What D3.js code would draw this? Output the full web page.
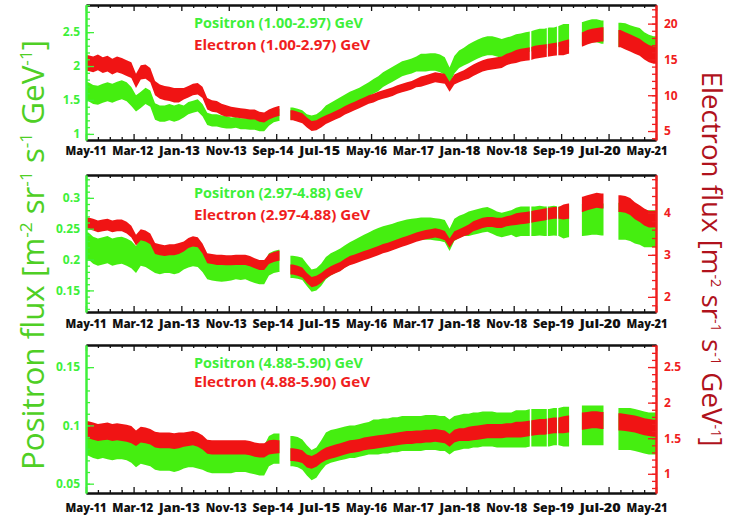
<!DOCTYPE html>
<html>
<head>
<meta charset="utf-8">
<script src="https://cdn.jsdelivr.net/npm/d3@7"></script>
<style>
  body { margin: 0; background: #fff; }
  svg { display: block; }
  text { font-family: "Open Sans", "DejaVu Sans", sans-serif; }
</style>
</head>
<body>
<svg id="chart" width="731" height="523"></svg>
<script>
// Monthly AMS-style flux summaries, May 2011 .. Apr 2021 (index 0 = May 2011).
// *Mid = typical daily flux in the month, *Spread = half-width of the daily scatter
// (one spread value per block of ten months). null = no measurements that month.
const firstMonth = new Date(2011, 4, 1);

const xTickLabels = ["May-11", "Mar-12", "Jan-13", "Nov-13", "Sep-14", "Jul-15", "May-16",
                     "Mar-17", "Jan-18", "Nov-18", "Sep-19", "Jul-20", "May-21"];

// periods without data
const dataGaps = [
  ["2014-09-22", "2014-11-28"],
  ["2019-02-12", "2019-02-22"],
  ["2019-06-01", "2019-06-08"],
  ["2019-08-05", "2019-08-14"],
  ["2019-10-22", "2020-01-12"],
  ["2020-05-30", "2020-09-01"]
];

const pos1Mid = [
  1.62,1.58,1.57,1.60,1.62,1.60,1.63,1.65,1.62,1.55,
  1.45,1.50,1.56,1.52,1.33,1.30,1.30,1.32,1.30,1.32,
  1.33,1.38,1.40,1.42,1.35,1.22,1.20,1.20,1.18,1.17,
  1.16,1.17,1.15,1.15,1.14,1.14,1.12,1.12,1.20,1.25,
  1.28,null,null,1.30,1.28,1.26,1.20,1.18,1.20,1.25,
  1.32,1.36,1.40,1.44,1.48,1.52,1.55,1.58,1.62,1.66,
  1.70,1.74,1.80,1.84,1.88,1.92,1.96,1.98,2.00,2.03,
  2.05,2.05,2.06,2.06,2.04,2.00,1.85,2.02,2.10,2.14,
  2.18,2.22,2.25,2.28,2.30,2.30,2.28,2.26,2.28,2.30,
  2.32,2.33,2.35,2.36,2.38,2.40,2.40,2.42,2.42,2.44,
  2.45,2.45,null,null,2.48,2.50,2.52,2.52,2.50,null,
  null,null,2.46,2.45,2.42,2.40,2.38,2.32,2.28,2.26
];
const pos1Spread = [0.14,0.12,0.09,0.08,0.09,0.10,0.11,0.13,0.14,0.15,0.17,0.18];

const ele1Mid = [
  14.5,14.3,14.6,14.2,14.4,14.0,14.3,14.1,13.8,13.5,
  12.0,13.2,13.3,12.8,11.0,10.5,10.3,10.2,10.0,10.0,
  10.2,10.5,10.8,10.9,10.4,8.8,8.5,8.4,8.0,7.8,
  7.7,7.6,7.5,7.4,7.3,7.3,7.0,6.9,7.3,7.6,
  7.8,null,null,7.2,7.0,6.8,6.2,5.7,5.8,6.2,
  6.6,6.9,7.2,7.5,7.9,8.2,8.5,8.8,9.1,9.4,
  9.6,9.9,10.1,10.3,10.5,10.8,11.0,11.2,11.4,11.7,
  11.9,12.1,12.3,12.5,12.4,12.3,11.2,12.2,12.5,12.8,
  13.1,13.5,13.8,14.1,14.3,14.4,14.5,14.6,15.0,15.2,
  15.4,15.6,15.7,15.8,16.0,16.1,16.2,16.3,16.4,16.5,
  16.6,16.8,null,null,17.8,18.1,18.3,18.4,18.5,null,
  null,null,17.9,17.6,17.3,17.0,16.7,16.2,15.8,15.6
];
const ele1Spread = [1.1,1.0,0.8,0.7,0.7,0.6,0.6,0.7,0.8,0.9,1.0,1.2];

const pos2Mid = [
  0.222,0.215,0.212,0.214,0.216,0.212,0.214,0.215,0.212,0.208,
  0.200,0.212,0.210,0.205,0.200,0.198,0.200,0.200,0.198,0.200,
  0.202,0.205,0.207,0.206,0.198,0.186,0.184,0.183,0.182,0.183,
  0.184,0.186,0.185,0.186,0.183,0.180,0.178,0.178,0.192,0.196,
  0.198,null,null,0.188,0.187,0.185,0.175,0.166,0.168,0.175,
  0.186,0.192,0.196,0.200,0.205,0.210,0.214,0.218,0.222,0.226,
  0.230,0.233,0.236,0.238,0.240,0.243,0.245,0.247,0.248,0.249,
  0.250,0.250,0.250,0.249,0.248,0.246,0.232,0.248,0.253,0.256,
  0.258,0.260,0.262,0.264,0.265,0.262,0.258,0.256,0.258,0.260,
  0.260,0.262,0.262,0.262,0.262,0.263,0.262,0.262,0.263,0.262,
  0.260,0.262,null,null,0.264,0.265,0.266,0.266,0.265,null,
  null,null,0.262,0.262,0.260,0.256,0.254,0.250,0.250,0.250
];
const pos2Spread = [0.022,0.022,0.018,0.018,0.018,0.018,0.018,0.018,0.020,0.024,0.026,0.030];

const ele2Mid = [
  3.75,3.72,3.68,3.70,3.72,3.68,3.70,3.70,3.65,3.55,
  3.35,3.48,3.45,3.38,3.15,3.12,3.10,3.12,3.12,3.15,
  3.20,3.28,3.32,3.30,3.15,2.92,2.90,2.88,2.88,2.87,
  2.87,2.88,2.88,2.88,2.85,2.80,2.76,2.76,2.90,2.95,
  2.98,null,null,2.65,2.62,2.58,2.45,2.35,2.38,2.45,
  2.55,2.62,2.67,2.72,2.80,2.86,2.90,2.94,2.98,3.02,
  3.06,3.10,3.15,3.18,3.22,3.26,3.30,3.34,3.38,3.42,
  3.45,3.48,3.50,3.52,3.50,3.46,3.28,3.45,3.50,3.55,
  3.60,3.68,3.72,3.76,3.78,3.78,3.76,3.76,3.80,3.82,
  3.85,3.87,3.88,3.90,3.92,3.94,3.96,3.98,4.00,4.00,
  4.02,4.04,null,null,4.20,4.24,4.27,4.30,4.28,null,
  null,null,4.22,4.20,4.15,4.05,3.98,3.90,3.85,3.85
];
const ele2Spread = [0.14,0.13,0.12,0.12,0.12,0.11,0.11,0.11,0.12,0.14,0.18,0.20];

const pos3Mid = [
  0.088,0.086,0.085,0.086,0.085,0.084,0.085,0.085,0.084,0.082,
  0.078,0.081,0.080,0.079,0.076,0.075,0.075,0.075,0.074,0.075,
  0.076,0.077,0.077,0.076,0.075,0.073,0.072,0.072,0.072,0.072,
  0.072,0.073,0.073,0.073,0.072,0.071,0.070,0.070,0.078,0.080,
  0.080,null,null,0.078,0.077,0.075,0.070,0.066,0.068,0.074,
  0.080,0.082,0.083,0.084,0.085,0.086,0.086,0.087,0.088,0.089,
  0.090,0.090,0.091,0.091,0.092,0.092,0.093,0.093,0.093,0.093,
  0.093,0.094,0.094,0.094,0.093,0.093,0.090,0.093,0.094,0.095,
  0.095,0.096,0.096,0.097,0.097,0.097,0.096,0.096,0.096,0.096,
  0.097,0.097,0.097,0.098,0.098,0.098,0.098,0.098,0.099,0.099,
  0.099,0.099,null,null,0.100,0.100,0.100,0.100,0.100,null,
  null,null,0.097,0.097,0.097,0.096,0.095,0.094,0.093,0.093
];
const pos3Spread = [0.014,0.014,0.013,0.013,0.013,0.014,0.015,0.015,0.015,0.016,0.017,0.018];

const ele3Mid = [
  1.62,1.60,1.58,1.59,1.60,1.58,1.59,1.58,1.57,1.55,
  1.50,1.55,1.54,1.52,1.48,1.47,1.47,1.47,1.46,1.47,
  1.48,1.49,1.50,1.48,1.44,1.38,1.37,1.37,1.37,1.37,
  1.37,1.37,1.37,1.37,1.36,1.34,1.33,1.33,1.37,1.38,
  1.38,null,null,1.27,1.26,1.24,1.18,1.16,1.19,1.24,
  1.28,1.30,1.32,1.34,1.36,1.38,1.39,1.40,1.42,1.43,
  1.44,1.45,1.46,1.47,1.48,1.49,1.50,1.51,1.51,1.52,
  1.52,1.53,1.53,1.54,1.53,1.52,1.47,1.53,1.55,1.55,
  1.56,1.57,1.58,1.59,1.60,1.60,1.60,1.60,1.61,1.61,
  1.62,1.62,1.63,1.64,1.65,1.66,1.66,1.67,1.68,1.68,
  1.69,1.70,null,null,1.74,1.75,1.76,1.76,1.75,null,
  null,null,1.73,1.72,1.71,1.70,1.68,1.66,1.65,1.64
];
const ele3Spread = [0.12,0.11,0.10,0.10,0.09,0.09,0.09,0.09,0.10,0.11,0.12,0.12];

// Axis tick values per energy bin
const posTicks1 = [1, 1.5, 2, 2.5],      eleTicks1 = [5, 10, 15, 20];
const posTicks2 = [0.15, 0.2, 0.25, 0.3], eleTicks2 = [2, 3, 4];
const posTicks3 = [0.05, 0.1, 0.15],     eleTicks3 = [1, 1.5, 2, 2.5];

const energyBins = ["1.00-2.97", "2.97-4.88", "4.88-5.90"];

const GREEN = "#45ee10", RED = "#f01414";
const GREEN_TXT = "#3ef03a", RED_TXT = "#f01e1e";

const panels = [
  { top: 5,   bottom: 140, posDomain: [0.91, 2.9],   posTicks: posTicks1, posMinor: 0.1,
    eleDomain: [3.75, 22.6], eleTicks: eleTicks1, eleMinor: 1,
    pos: [pos1Mid, pos1Spread], ele: [ele1Mid, ele1Spread], bin: energyBins[0],
    legendY: [28, 50], labelDy: 15 },
  { top: 175, bottom: 312, posDomain: [0.115, 0.337], posTicks: posTicks2, posMinor: 0.01,
    eleDomain: [1.64, 4.9], eleTicks: eleTicks2, eleMinor: 0.2,
    pos: [pos2Mid, pos2Spread], ele: [ele2Mid, ele2Spread], bin: energyBins[1],
    legendY: [198, 220], labelDy: 16 },
  { top: 345, bottom: 493, posDomain: [0.042, 0.169], posTicks: posTicks3, posMinor: 0.01,
    eleDomain: [0.73, 2.81], eleTicks: eleTicks3, eleMinor: 0.1,
    pos: [pos3Mid, pos3Spread], ele: [ele3Mid, ele3Spread], bin: energyBins[2],
    legendY: [368, 387], labelDy: 18.5 }
];

const svg = d3.select("#chart");
const X0 = 86, X1 = 656;
const x = d3.scaleTime()
  .domain([firstMonth, d3.timeMonth.offset(firstMonth, 120)])
  .range([X0, X1]);

// tick dates: a labelled tick every ten months, unlabelled ones every 2.5 months
const majorDates = xTickLabels.map((_, i) => d3.timeMonth.offset(firstMonth, 10 * i));
const minorDates = [];
for (let i = 0; i < majorDates.length - 1; i++) {
  const a = +majorDates[i], b = +majorDates[i + 1];
  for (let j = 1; j < 4; j++) minorDates.push(new Date(a + (b - a) * j / 4));
}
const labelScale = d3.scalePoint().domain(xTickLabels).range([86, 647]);

// monthly band points; a run of months spans from its first month's start to its last month's end
function bandPoints(mid, spread) {
  const pts = [];
  mid.forEach((v, m) => {
    const d0 = d3.timeMonth.offset(firstMonth, m);
    const d1 = d3.timeMonth.offset(firstMonth, m + 1);
    if (v == null) { pts.push(null); return; }
    const s = spread[Math.floor(m / 10)];
    const prevNull = m === 0 || mid[m - 1] == null;
    const nextNull = m === mid.length - 1 || mid[m + 1] == null;
    if (prevNull) pts.push({ date: d0, lo: v - s, hi: v + s });
    pts.push({ date: new Date((+d0 + +d1) / 2), lo: v - s, hi: v + s });
    if (nextNull) pts.push({ date: d1, lo: v - s, hi: v + s });
  });
  return pts;
}

const fmt = d => String(d);
const stepRange = (a, b, step) => d3.range(Math.ceil(a / step - 1e-9), Math.floor(b / step + 1e-9) + 1)
  .map(k => +(k * step).toFixed(4));

panels.forEach((p, i) => {
  const g = svg.append("g");
  const yPos = d3.scaleLinear().domain(p.posDomain).range([p.bottom, p.top]);
  const yEle = d3.scaleLinear().domain(p.eleDomain).range([p.bottom, p.top]);

  // clip: panel frame minus the data gaps
  const clipId = "clip" + i;
  const cp = svg.append("clipPath").attr("id", clipId);
  const edges = [x.domain()[0]];
  dataGaps.forEach(([s, e]) => { edges.push(new Date(s)); edges.push(new Date(e)); });
  edges.push(x.domain()[1]);
  for (let k = 0; k < edges.length; k += 2) {
    cp.append("rect")
      .attr("x", x(edges[k])).attr("y", p.top)
      .attr("width", Math.max(0, x(edges[k + 1]) - x(edges[k])))
      .attr("height", p.bottom - p.top);
  }

  const plot = g.append("g").attr("clip-path", `url(#${clipId})`);
  const areaFor = y => d3.area()
    .defined(d => d != null)
    .x(d => x(d.date))
    .y0(d => y(d.lo))
    .y1(d => y(d.hi));

  plot.append("path")
    .datum(bandPoints(p.pos[0], p.pos[1]))
    .attr("d", areaFor(yPos))
    .attr("fill", GREEN);
  plot.append("path")
    .datum(bandPoints(p.ele[0], p.ele[1]))
    .attr("d", areaFor(yEle))
    .attr("fill", RED);

  // bottom / top time axes (ticks point into the frame)
  const axB = g.append("g").attr("transform", `translate(0,${p.bottom})`)
    .call(d3.axisBottom(x).tickValues(majorDates).tickSizeInner(-6).tickSizeOuter(0).tickFormat(""));
  const axBm = g.append("g").attr("transform", `translate(0,${p.bottom})`)
    .call(d3.axisBottom(x).tickValues(minorDates).tickSizeInner(-3).tickSizeOuter(0).tickFormat(""));
  const axT = g.append("g").attr("transform", `translate(0,${p.top})`)
    .call(d3.axisTop(x).tickValues(majorDates).tickSizeInner(-6).tickSizeOuter(0).tickFormat(""));
  const axTm = g.append("g").attr("transform", `translate(0,${p.top})`)
    .call(d3.axisTop(x).tickValues(minorDates).tickSizeInner(-3).tickSizeOuter(0).tickFormat(""));
  [axB, axBm, axT, axTm].forEach(a => {
    a.selectAll("path.domain").attr("stroke", "#111").attr("stroke-width", 2);
    a.selectAll(".tick line").attr("stroke", "#111").attr("stroke-width", 1.3);
  });

  // month labels under each panel
  g.append("g").selectAll("text").data(xTickLabels).join("text")
    .attr("x", d => labelScale(d))
    .attr("y", p.bottom + p.labelDy)
    .attr("text-anchor", "middle")
    .attr("font-size", 12)
    .attr("font-weight", 800)
    .attr("fill", "#111")
    .attr("textLength", 41)
    .attr("lengthAdjust", "spacingAndGlyphs")
    .text(d => d);

  // positron axis (left)
  const axL = g.append("g").attr("transform", `translate(${X0},0)`)
    .call(d3.axisLeft(yPos).tickValues(p.posTicks).tickSizeInner(-8).tickSizeOuter(0).tickPadding(6).tickFormat(fmt));
  const axLm = g.append("g").attr("transform", `translate(${X0},0)`)
    .call(d3.axisLeft(yPos).tickValues(stepRange(p.posDomain[0], p.posDomain[1], p.posMinor))
      .tickSizeInner(-4).tickSizeOuter(0).tickFormat(""));
  [axL, axLm].forEach(a => {
    a.selectAll("path.domain").attr("stroke", GREEN_TXT).attr("stroke-width", 2);
    a.selectAll(".tick line").attr("stroke", GREEN_TXT).attr("stroke-width", 1.3);
  });
  axL.selectAll(".tick text").attr("fill", GREEN_TXT).attr("font-size", 12).attr("font-weight", 700)
    .attr("font-family", "'Open Sans', sans-serif");

  // electron axis (right)
  const axR = g.append("g").attr("transform", `translate(${X1},0)`)
    .call(d3.axisRight(yEle).tickValues(p.eleTicks).tickSizeInner(-8).tickSizeOuter(0).tickPadding(8).tickFormat(fmt));
  const axRm = g.append("g").attr("transform", `translate(${X1},0)`)
    .call(d3.axisRight(yEle).tickValues(stepRange(p.eleDomain[0], p.eleDomain[1], p.eleMinor))
      .tickSizeInner(-4).tickSizeOuter(0).tickFormat(""));
  [axR, axRm].forEach(a => {
    a.selectAll("path.domain").attr("stroke", RED_TXT).attr("stroke-width", 2);
    a.selectAll(".tick line").attr("stroke", RED_TXT).attr("stroke-width", 1.3);
  });
  axR.selectAll(".tick text").attr("fill", RED_TXT).attr("font-size", 12).attr("font-weight", 700)
    .attr("font-family", "'Open Sans', sans-serif");

  // legend
  g.append("text").attr("x", 194).attr("y", p.legendY[0])
    .attr("font-size", 14.5).attr("font-weight", 700).attr("fill", GREEN_TXT)
    .attr("textLength", 169).attr("lengthAdjust", "spacingAndGlyphs")
    .text(`Positron (${p.bin}) GeV`);
  g.append("text").attr("x", 194).attr("y", p.legendY[1])
    .attr("font-size", 14.5).attr("font-weight", 700).attr("fill", RED_TXT)
    .attr("textLength", 176).attr("lengthAdjust", "spacingAndGlyphs")
    .text(`Electron (${p.bin}) GeV`);
});

// axis titles with superscript unit exponents
function unitTitle(sel, name, supShift, supSize) {
  sel.append("tspan").text(name + " flux [m");
  const parts = [["-2", " sr"], ["-1", " s"], ["-1", " GeV"], ["-1", "]"]];
  parts.forEach(([sup, rest]) => {
    sel.append("tspan").attr("dy", -supShift).attr("font-size", supSize).text(sup);
    sel.append("tspan").attr("dy", supShift).text(rest);
  });
}
svg.append("text")
  .attr("transform", "translate(44,255) rotate(-90)")
  .attr("text-anchor", "middle")
  .attr("font-size", 31)
  .attr("fill", "#4fcf25")
  .attr("textLength", 430)
  .attr("lengthAdjust", "spacingAndGlyphs")
  .call(unitTitle, "Positron", 12, 17);
svg.append("text")
  .attr("transform", "translate(702,259) rotate(90)")
  .attr("text-anchor", "middle")
  .attr("font-size", 27)
  .attr("fill", "#b0121c")
  .attr("textLength", 375)
  .attr("lengthAdjust", "spacingAndGlyphs")
  .call(unitTitle, "Electron", 9, 14);
</script>
</body>
</html>
